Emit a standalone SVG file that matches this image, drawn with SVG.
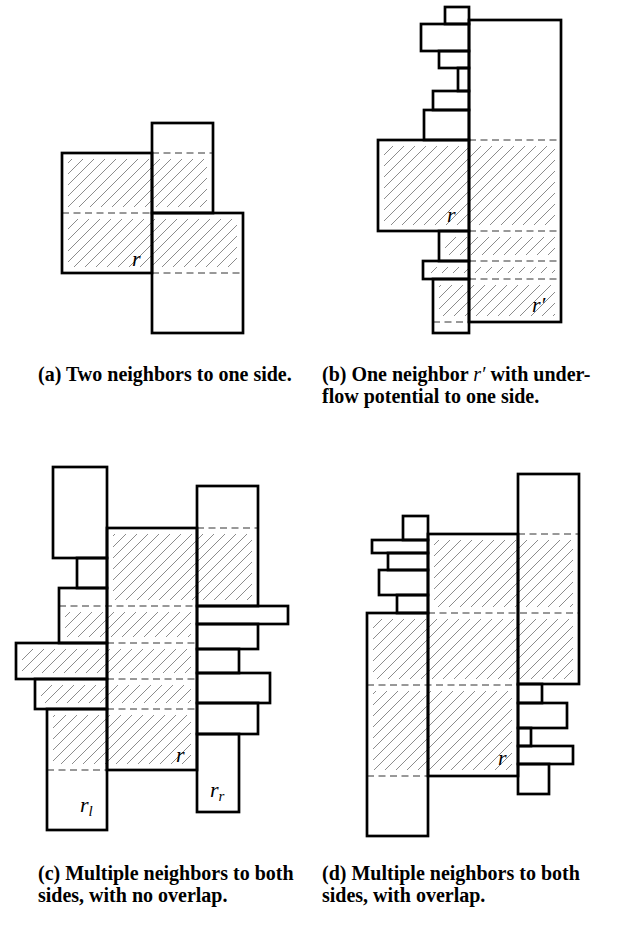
<svg xmlns="http://www.w3.org/2000/svg" width="622" height="936" viewBox="0 0 622 936">
<style>
.n{fill:none;stroke:#000;stroke-width:2.7;stroke-linejoin:miter}
.d{fill:none;stroke:#333;stroke-width:1;stroke-dasharray:7 4.5}
.lbl{font-family:"Liberation Serif",serif;font-style:italic;font-size:22px;fill:#000}
.sub{font-size:15px}
.cap{font-family:"Liberation Serif",serif;font-weight:bold;font-size:20px;fill:#000}
.capi{font-weight:normal;font-style:italic}
</style>
<defs>
<pattern id="h" patternUnits="userSpaceOnUse" width="11" height="11">
<path d="M0,11 L11,0 M-1,1 L1,-1 M10,12 L12,10" stroke="#8c8c8c" stroke-width="1" fill="none"/>
</pattern>
</defs>
<rect width="622" height="936" fill="#fff"/>

<!-- hatched bands -->
<g id="hatch" fill="url(#h)">
<rect x="68" y="159" width="139" height="48"/>
<rect x="68" y="219" width="169" height="48"/>
<rect x="384" y="146" width="171" height="79"/>
<rect x="445" y="237" width="110" height="18"/>
<rect x="429" y="267" width="126" height="6"/>
<rect x="439" y="285" width="116" height="31"/>
<rect x="113" y="534" width="139" height="66"/>
<rect x="65" y="612" width="126" height="25"/>
<rect x="22" y="649" width="169" height="24"/>
<rect x="41" y="685" width="150" height="18"/>
<rect x="53" y="715" width="138" height="49"/>
<rect x="434" y="540" width="139" height="67"/>
<rect x="373" y="619" width="200" height="60"/>
<rect x="373" y="691" width="139" height="79"/>
</g>

<g id="connectors">
<path class="d" d="M152,153H213 M62,213H152 M152,273H243"/>
<path class="d" d="M469,140H561 M469,231H561 M469,261H561 M469,279H561 M433,322H469"/>
<path class="d" d="M197,528H258 M59,606H197 M107,643H197 M107,679H197 M107,709H197 M47,770H107"/>
<path class="d" d="M518,534H579 M428,613H579 M367,685H518 M367,776H428"/>
</g>

<!-- panel a -->
<g id="a_top"><rect class="n" x="152" y="123" width="61" height="90"/></g>
<g id="a_left"><rect class="n" x="62" y="153" width="90" height="120"/><text class="lbl" x="132" y="266">r</text></g>
<g id="a_right"><rect class="n" x="152" y="213" width="91" height="120"/></g>

<!-- panel b -->
<g id="b_rp"><rect class="n" x="469" y="20" width="92" height="302"/><text class="lbl" x="532" y="312">r′</text></g>
<g id="b1"><rect class="n" x="445" y="7" width="24" height="17"/></g>
<g id="b2"><rect class="n" x="421" y="24" width="48" height="27"/></g>
<g id="b3"><rect class="n" x="439" y="51" width="30" height="17"/></g>
<g id="b4"><rect class="n" x="458" y="68" width="11" height="23"/></g>
<g id="b5"><rect class="n" x="433" y="91" width="36" height="19"/></g>
<g id="b6"><rect class="n" x="424" y="110" width="45" height="30"/></g>
<g id="b_r"><rect class="n" x="378" y="140" width="91" height="91"/><text class="lbl" x="447" y="222">r</text></g>
<g id="b8"><rect class="n" x="439" y="231" width="30" height="30"/></g>
<g id="b9"><rect class="n" x="423" y="261" width="46" height="18"/></g>
<g id="b10"><rect class="n" x="433" y="279" width="36" height="54"/></g>

<!-- panel c -->
<g id="c1"><rect class="n" x="53" y="467" width="54" height="91"/></g>
<g id="c2"><rect class="n" x="77" y="558" width="30" height="30"/></g>
<g id="c3"><rect class="n" x="59" y="588" width="48" height="55"/></g>
<g id="c4"><rect class="n" x="16" y="643" width="91" height="36"/></g>
<g id="c5"><rect class="n" x="35" y="679" width="72" height="30"/></g>
<g id="c_rl"><rect class="n" x="47" y="709" width="60" height="121"/><text class="lbl" x="80" y="812">r<tspan class="sub" dy="4">l</tspan></text></g>
<g id="c_r"><rect class="n" x="107" y="528" width="90" height="242"/><text class="lbl" x="176" y="762">r</text></g>
<g id="c6"><rect class="n" x="197" y="486" width="61" height="120"/></g>
<g id="c7"><rect class="n" x="197" y="606" width="91" height="18"/></g>
<g id="c8"><rect class="n" x="197" y="624" width="61" height="25"/></g>
<g id="c9"><rect class="n" x="197" y="649" width="42" height="24"/></g>
<g id="c10"><rect class="n" x="197" y="673" width="73" height="30"/></g>
<g id="c11"><rect class="n" x="197" y="703" width="61" height="31"/></g>
<g id="c_rr"><rect class="n" x="197" y="734" width="42" height="78"/><text class="lbl" x="210" y="797">r<tspan class="sub" dy="4">r</tspan></text></g>

<!-- panel d -->
<g id="d_rt"><rect class="n" x="518" y="474" width="61" height="210"/></g>
<g id="d_r"><rect class="n" x="428" y="534" width="90" height="242"/><text class="lbl" x="498" y="765">r</text></g>
<g id="d1"><rect class="n" x="403" y="516" width="25" height="24"/></g>
<g id="d2"><rect class="n" x="372" y="540" width="56" height="13"/></g>
<g id="d3"><rect class="n" x="388" y="553" width="40" height="17"/></g>
<g id="d4"><rect class="n" x="379" y="570" width="49" height="25"/></g>
<g id="d5"><rect class="n" x="397" y="595" width="31" height="18"/></g>
<g id="d_l"><rect class="n" x="367" y="613" width="61" height="223"/></g>
<g id="d6"><rect class="n" x="518" y="684" width="24" height="19"/></g>
<g id="d7"><rect class="n" x="518" y="703" width="49" height="25"/></g>
<g id="d8"><rect class="n" x="518" y="728" width="13" height="18"/></g>
<g id="d9"><rect class="n" x="518" y="746" width="55" height="18"/></g>
<g id="d10"><rect class="n" x="518" y="764" width="31" height="30"/></g>

<!-- captions -->
<g id="captions">
<text class="cap" x="38" y="381">(a) Two neighbors to one side.</text>
<text class="cap" x="322" y="381">(b) One neighbor <tspan class="capi">r′</tspan> with under-</text>
<text class="cap" x="322" y="403">flow potential to one side.</text>
<text class="cap" x="38" y="880">(c) Multiple neighbors to both</text>
<text class="cap" x="38" y="902">sides, with no overlap.</text>
<text class="cap" x="322" y="880">(d) Multiple neighbors to both</text>
<text class="cap" x="322" y="902">sides, with overlap.</text>
</g>
</svg>
